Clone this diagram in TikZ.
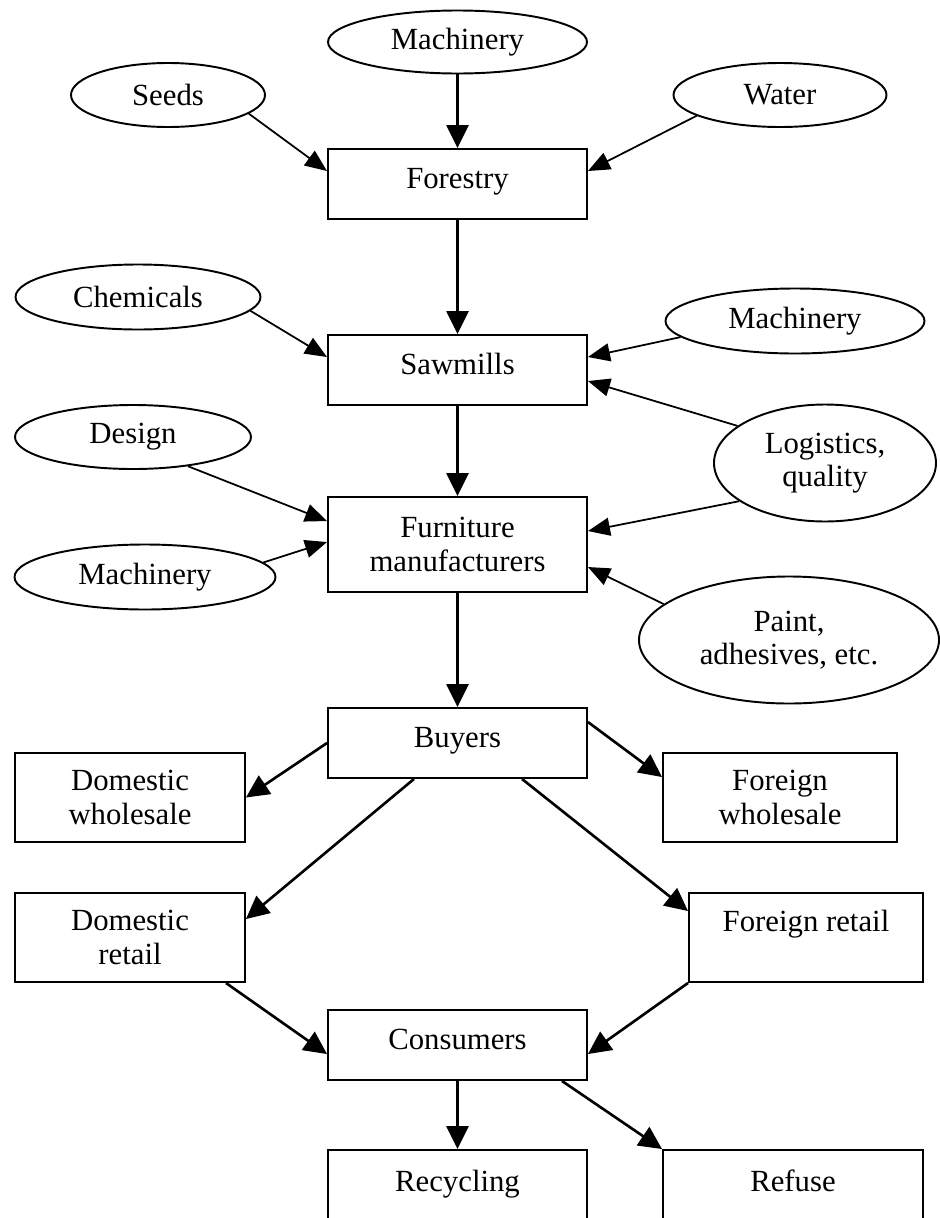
\documentclass[tikz,border=0pt]{standalone}
\usepackage{fontspec}
\setmainfont{Liberation Serif}
\usetikzlibrary{arrows.meta, shapes.geometric}

\begin{document}
\begin{tikzpicture}[
    every node/.style={draw, align=center, inner sep=2pt, line width=1.1pt, font=\fontsize{17.5}{19}\selectfont},
    box/.style={rectangle, minimum width=5.18cm, minimum height=1.4cm},
    line1/.style={text height=1.6ex, text depth=0.6ex},
    res/.style={ellipse, inner sep=0pt},
    >={Triangle[length=4.6mm, width=4.4mm]},
    flow/.style={->, line width=1.5pt},
    feed/.style={-{Triangle[length=4.4mm, width=3.6mm]}, line width=1pt}
]
\useasboundingbox (0,0) rectangle (18.8,-24.36);

\node (mach1)     at (9.15, -0.84)  [res, minimum width=5.18cm, minimum height=1.26cm] {Machinery};
\node (seeds)     at (3.36, -1.90)  [res, minimum width=3.88cm, minimum height=1.28cm] {Seeds};
\node (water)     at (15.60, -1.90) [res, minimum width=4.26cm, minimum height=1.28cm] {Water};
\node (forestry)  at (9.15, -3.68)  [box, line1] {Forestry};
\node (chem)      at (2.76, -5.94)  [res, minimum width=4.90cm, minimum height=1.30cm] {Chemicals};
\node (mach2)     at (15.90, -6.42) [res, minimum width=5.18cm, minimum height=1.30cm] {Machinery};
\node (sawmills)  at (9.15, -7.40)  [box, line1] {Sawmills};
\node (design)    at (2.66, -8.74)  [res, minimum width=4.72cm, minimum height=1.28cm] {Design};
\node (logist)    at (16.50, -9.26) [res, minimum width=4.44cm, minimum height=2.34cm] {Logistics,\\ quality};
\node (furniture) at (9.15, -10.89) [box, minimum height=1.9cm] {Furniture\\ manufacturers};
\node (mach3)     at (2.90, -11.54) [res, minimum width=5.22cm, minimum height=1.30cm] {Machinery};
\node (paint)     at (15.78, -12.80) [res, minimum width=6.00cm, minimum height=2.54cm] {Paint,\\ adhesives, etc.};
\node (buyers)    at (9.15, -14.86) [box, line1] {Buyers};
\node (domwhole)  at (2.60, -15.95) [box, minimum width=4.6cm, minimum height=1.78cm] {Domestic\\ wholesale};
\node (forwhole)  at (15.60, -15.95) [box, minimum width=4.68cm, minimum height=1.78cm] {Foreign\\ wholesale};
\node (domretail) at (2.60, -18.75) [box, minimum width=4.6cm, minimum height=1.78cm] {Domestic\\ retail};
\node (forretail) at (16.12, -18.75) [box, minimum width=4.68cm, minimum height=1.78cm] {Foreign retail\\ \mbox{}};
\node (consumers) at (9.15, -20.90) [box, line1] {Consumers};
\node (recycling) at (9.15, -23.75)  [box, line1, minimum height=1.5cm] {Recycling};
\node (refuse)    at (15.86, -23.75) [box, line1, minimum width=5.2cm, minimum height=1.5cm] {Refuse};

\draw[flow] (mach1) -- (forestry);
\draw[feed] (seeds.-13) -- ([yshift=-4.6mm]forestry.north west);
\draw[feed] (water.-166) -- ([yshift=-4.6mm]forestry.north east);
\draw[flow] (forestry) -- (sawmills);
\draw[feed] (chem.-7) -- ([yshift=-4.6mm]sawmills.north west);
\draw[feed] (mach2.188) -- ([yshift=-4.6mm]sawmills.north east);
\draw[feed] (logist.157) -- ([yshift=-9.4mm]sawmills.north east);
\draw[flow] (sawmills) -- (furniture);
\draw[feed] (design.-28) -- ([yshift=-5mm]furniture.north west);
\draw[feed] (mach3.7) -- ([yshift=-9.2mm]furniture.north west);
\draw[feed] (logist.204) -- ([yshift=-7mm]furniture.north east);
\draw[feed] (paint.164) -- ([yshift=-14.2mm]furniture.north east);
\draw[flow] (furniture) -- (buyers);
\draw[flow] (buyers.west) -- (domwhole.east);
\draw[flow] ([yshift=-3mm]buyers.north east) -- ([yshift=-5mm]forwhole.north west);
\draw[flow] ([xshift=-8.7mm]buyers.south) -- ([yshift=-5.4mm]domretail.north east);
\draw[flow] ([xshift=12.9mm]buyers.south) -- ([yshift=-3.8mm]forretail.north west);
\draw[flow] ([xshift=-4mm]domretail.south east) -- ([yshift=-9mm]consumers.north west);
\draw[flow] (forretail.south west) -- ([yshift=-9mm]consumers.north east);
\draw[flow] (consumers) -- (recycling);
\draw[flow] ([xshift=-5.2mm]consumers.south east) -- (refuse.north west);
\end{tikzpicture}
\end{document}
